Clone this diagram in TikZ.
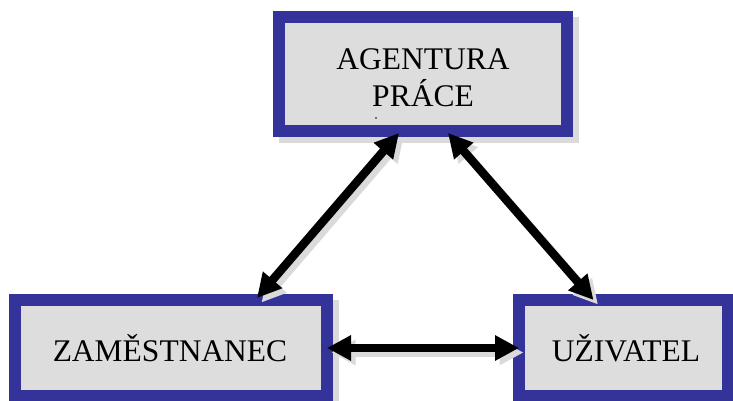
\documentclass[tikz,border=0pt]{standalone}
\usepackage{fontspec}
\setmainfont{Liberation Serif}
\usetikzlibrary{arrows.meta,calc,backgrounds}

\definecolor{boxblue}{HTML}{333399}
\definecolor{boxgray}{HTML}{DDDDDD}
\definecolor{shadegray}{HTML}{DADADA}

\tikzset{
  box/.style={draw=boxblue, fill=boxgray, line width=12pt, outer sep=0pt,
    inner sep=0pt, rectangle},
  lbl/.style={anchor=base, inner sep=0pt, font=\fontsize{31.5}{37}\selectfont},
  link/.style={line width=8.5pt,
    {Triangle[length=24pt,width=24pt]}-{Triangle[length=24pt,width=24pt]}},
  linkshade/.style={link, draw=shadegray, fill=shadegray,
    transform canvas={xshift=4.5pt, yshift=-4.5pt}},
}

\begin{document}
\begin{tikzpicture}[x=1pt, y=-1pt]
  \clip (0,0) rectangle (733,401);
  \useasboundingbox (0,0) rectangle (733,401);

  % boxes (outline drawn on the node border)
  \node[box, minimum width=288pt, minimum height=114pt] (agentura) at (423,74) {};
  \node[box, minimum width=312pt, minimum height=96pt] (zam) at (171,348) {};
  \node[box, minimum width=209pt, minimum height=96pt] (uziv) at (623.5,348) {};

  % drop shadows behind the boxes
  \begin{scope}[on background layer]
    \fill[shadegray] (agentura.north west) rectangle ($(agentura.south east)+(12,12)$);
    \fill[shadegray] (zam.north west) rectangle ($(zam.south east)+(12,12)$);
    \fill[shadegray] (uziv.north west) rectangle ($(uziv.south east)+(12,12)$);
  \end{scope}

  % labels
  \node[lbl] (t1) at (423,70) {AGENTURA};
  \node[lbl] (t2) at (423,107) {PRÁCE};
  \node[lbl] (t3) at (170,361) {ZAMĚSTNANEC};
  \node[lbl] (t4) at (626,361) {UŽIVATEL};
  \fill (376,118) circle (0.8);

  % connector end points
  \coordinate (aL) at ($(agentura.south)+(-24,2)$);
  \coordinate (aR) at ($(agentura.south)+(25,2)$);
  \coordinate (zT) at ($(zam.north)+(86,-2)$);
  \coordinate (uT) at ($(uziv.north)+(-30,0)$);

  % connector shadows
  \draw[linkshade] (aL) -- (zT);
  \draw[linkshade] (aR) -- (uT);
  \draw[linkshade] (zam.east) -- (uziv.west);

  % connectors
  \draw[link] (aL) -- (zT);
  \draw[link] (aR) -- (uT);
  \draw[link] (zam.east) -- (uziv.west);
\end{tikzpicture}
\end{document}
